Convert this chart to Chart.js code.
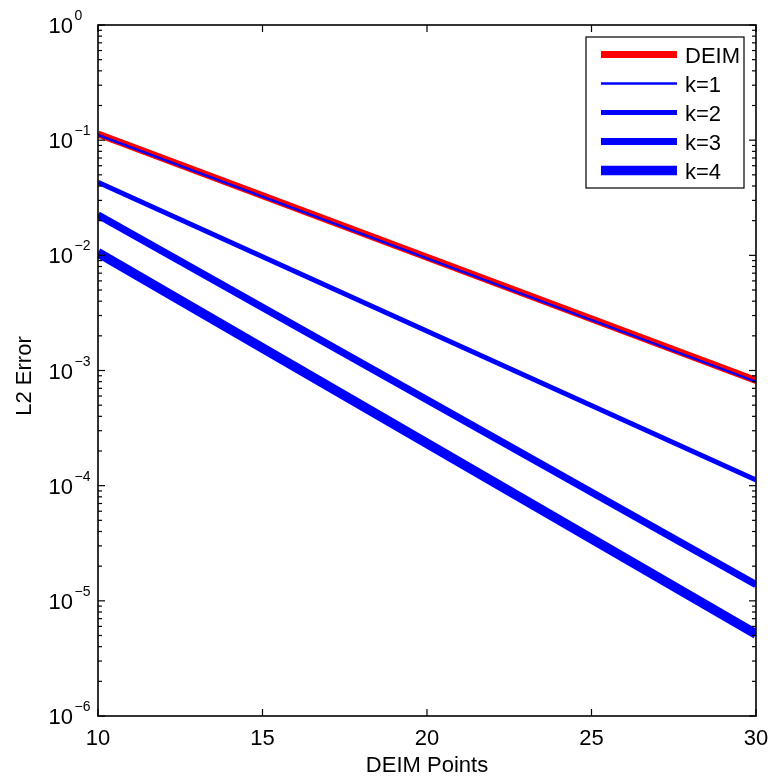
<!DOCTYPE html>
<html>
<head>
<meta charset="utf-8">
<title>DEIM error</title>
<script src="https://cdn.jsdelivr.net/npm/chart.js@4.4.1/dist/chart.umd.min.js"></script>
<style>
  html, body { margin: 0; padding: 0; background: #fff; }
  canvas { display: block; }
</style>
</head>
<body>
<canvas id="errChart" width="774" height="782"></canvas>
<script>
// L2 error vs number of DEIM points (log scale)
const deimPoints = [10, 30];
const deimErr = [0.113, 8.2e-4];
const k1Err = [0.111, 8.0e-4];
const k2Err = [0.0431, 1.12e-4];
const k3Err = [0.0224, 1.38e-5];
const k4Err = [0.01056, 5.14e-6];
const seriesLabels = ['DEIM', 'k=1', 'k=2', 'k=3', 'k=4'];

const xTicks = [10, 15, 20, 25, 30];
const yTickExps = [0, -1, -2, -3, -4, -5, -6];
const xTitle = 'DEIM Points';
const yTitle = 'L2 Error';

const FONT = "'Liberation Sans', Arial, Helvetica, sans-serif";

function toPoints(ys) {
    return deimPoints.map((x, i) => ({ x: x, y: ys[i] }));
}

function line(ctx, x1, y1, x2, y2) {
    ctx.beginPath();
    ctx.moveTo(x1, y1);
    ctx.lineTo(x2, y2);
    ctx.stroke();
}

// axes box, inward ticks, 10^n labels and legend drawn by hand
const matlabAxes = {
    id: 'matlabAxes',
    afterDatasetsDraw(chart) {
        const { ctx, chartArea: a, scales: { x, y } } = chart;
        ctx.save();

        // legend
        const lx = 586, ly = 37, lw = 158, lh = 151;
        ctx.fillStyle = '#fff';
        ctx.fillRect(lx, ly, lw, lh);
        ctx.strokeStyle = '#000';
        ctx.lineWidth = 1.2;
        ctx.strokeRect(lx, ly, lw, lh);
        ctx.font = '22px ' + FONT;
        ctx.textAlign = 'left';
        ctx.textBaseline = 'alphabetic';
        chart.data.datasets.forEach((ds, i) => {
            const ry = 54.5 + i * 29;
            ctx.strokeStyle = ds.borderColor;
            ctx.lineWidth = ds.borderWidth;
            ctx.lineCap = 'butt';
            line(ctx, 601, ry, 677, ry);
            ctx.fillStyle = '#000';
            ctx.fillText(ds.label, 685, ry + 8);
        });

        // box
        ctx.strokeStyle = '#000';
        ctx.lineWidth = 1.6;
        ctx.strokeRect(a.left, a.top, a.right - a.left, a.bottom - a.top);

        // x ticks
        ctx.lineWidth = 1.2;
        ctx.fillStyle = '#000';
        ctx.font = '22px ' + FONT;
        ctx.textAlign = 'center';
        xTicks.forEach(v => {
            const px = x.getPixelForValue(v);
            line(ctx, px, a.bottom, px, a.bottom - 7);
            line(ctx, px, a.top, px, a.top + 7);
            ctx.fillText(String(v), px, a.bottom + 29);
        });

        // y ticks: decades plus minor 2..9
        yTickExps.forEach(e => {
            const py = y.getPixelForValue(Math.pow(10, e));
            line(ctx, a.left, py, a.left + 7, py);
            line(ctx, a.right, py, a.right - 7, py);
            if (e < 0) {
                for (let m = 2; m <= 9; m++) {
                    const my = y.getPixelForValue(m * Math.pow(10, e));
                    line(ctx, a.left, my, a.left + 4, my);
                    line(ctx, a.right, my, a.right - 4, my);
                }
            }
            ctx.font = '22px ' + FONT;
            ctx.textAlign = 'right';
            ctx.fillText('10', 73, py + 8);
            ctx.font = '14px ' + FONT;
            ctx.textAlign = 'left';
            ctx.fillText(e < 0 ? '\u2212' + (-e) : String(e), 74.5, py - 5);
        });

        // axis titles
        ctx.font = '22px ' + FONT;
        ctx.textAlign = 'center';
        ctx.fillText(xTitle, (a.left + a.right) / 2, 772);
        ctx.save();
        ctx.translate(31, 376);
        ctx.rotate(-Math.PI / 2);
        ctx.fillText(yTitle, 0, 0);
        ctx.restore();

        ctx.restore();
    }
};

const seriesData = [deimErr, k1Err, k2Err, k3Err, k4Err];
const seriesColors = ['#ff0000', '#0000ff', '#0000ff', '#0000ff', '#0000ff'];
const seriesWidths = [7, 2.4, 4.8, 7.2, 9.6];

new Chart(document.getElementById('errChart'), {
    type: 'line',
    data: {
        datasets: seriesData.map((ys, i) => ({
            label: seriesLabels[i],
            data: toPoints(ys),
            borderColor: seriesColors[i],
            backgroundColor: seriesColors[i],
            borderWidth: seriesWidths[i],
            borderCapStyle: 'butt',
            pointRadius: 0,
            tension: 0,
            clip: 0,
            order: i === 0 ? 1 : 0
        }))
    },
    options: {
        responsive: false,
        animation: false,
        layout: { padding: { left: 98, top: 25, right: 18, bottom: 66 } },
        scales: {
            x: { type: 'linear', min: 10, max: 30, display: false },
            y: { type: 'logarithmic', min: 1e-6, max: 1, display: false }
        },
        plugins: {
            legend: { display: false },
            tooltip: { enabled: false }
        }
    },
    plugins: [matlabAxes]
});
</script>
</body>
</html>
